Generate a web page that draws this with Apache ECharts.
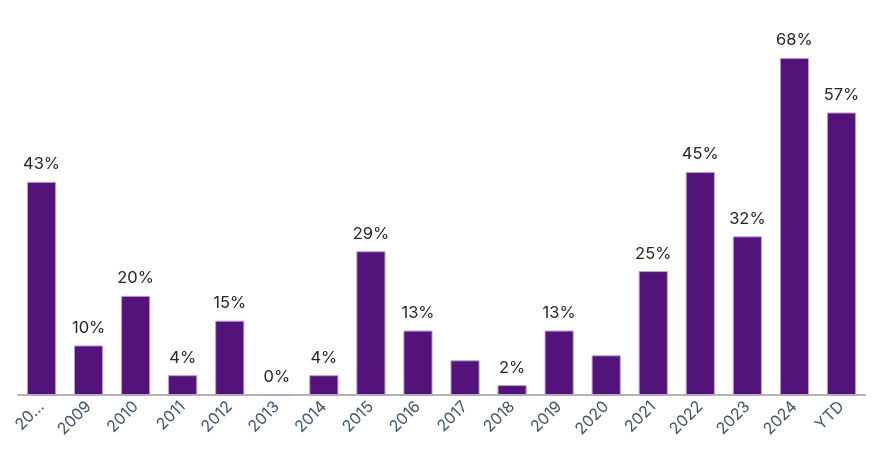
<!DOCTYPE html>
<html><head><meta charset="utf-8">
<script src="https://cdn.jsdelivr.net/npm/echarts@6/dist/echarts.min.js"></script>
<style>html,body{margin:0;padding:0;background:#fff}#c{width:877px;height:450px}</style>
</head><body><div id="c"></div>
<script>
const categories = ['2008','2009','2010','2011','2012','2013','2014','2015','2016','2017','2018','2019','2020','2021','2022','2023','2024','YTD'];
const values = [43,10,20,4,15,0,4,29,13,7,2,13,8,25,45,32,68,57];
const hiddenLabels = ['2017','2020'];

const chart = echarts.init(document.getElementById('c'));
chart.setOption({
  animation:false,
  grid:{left:18,right:12,top:48,bottom:55},
  xAxis:{type:'category',data:categories,
    axisLine:{lineStyle:{color:'#b3b3b3',width:2}},
    axisTick:{show:false},
    axisLabel:{rotate:45,color:'#44546a',fontSize:16,fontFamily:'Inter',margin:9,interval:0,
      formatter:(v,i)=> i===0 ? '20...' : v}},
  yAxis:{type:'value',min:0,max:70,show:false,splitLine:{show:false}},
  series:[{type:'bar',barCategoryGap:'38%',
    data:values.map((v,i)=>({value:v,label:{show:!hiddenLabels.includes(categories[i])}})),
    itemStyle:{color:'#53137b',borderColor:'#b9a3cc',borderWidth:1},
    label:{show:true,position:'top',distance:9,formatter:'{c}%',color:'#262626',fontSize:16.5,fontFamily:'Inter'}}]
});
</script></body></html>
